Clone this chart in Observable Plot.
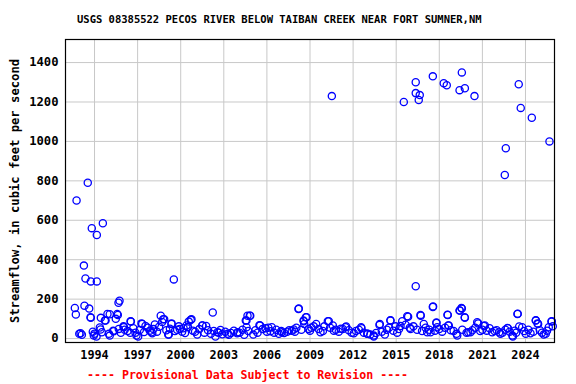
<!DOCTYPE html>
<html>
<head>
<meta charset="utf-8">
<script src="https://cdn.jsdelivr.net/npm/d3@7"></script>
<script src="https://cdn.jsdelivr.net/npm/@observablehq/plot@0.6"></script>
<style>
  html, body { margin: 0; padding: 0; background: white; }
  #wrap { position: relative; width: 576px; height: 384px; overflow: hidden; font-family: "DejaVu Sans Mono", monospace; font-weight: bold; }
  #title { position: absolute; top: 12px; left: 0; width: 576px; padding-left: 77px; box-sizing: border-box; font-size: 10.5px; line-height: 14px; color: black; white-space: pre; }
  #chart { position: absolute; top: 30px; left: 0; }
  #caption { position: absolute; top: 368px; left: 87px; font-size: 11.6px; line-height: 14px; color: red; white-space: pre; }
</style>
</head>
<body>
<div id="wrap">
  <div id="title"></div>
  <div id="chart"></div>
  <div id="caption"></div>
</div>
<script>
const titleText = "USGS 08385522 PECOS RIVER BELOW TAIBAN CREEK NEAR FORT SUMNER,NM";
const captionText = "---- Provisional Data Subject to Revision ----";
const yLabel = "Streamflow, in cubic feet per second";
const xTicks = [1994, 1997, 2000, 2003, 2006, 2009, 2012, 2015, 2018, 2021, 2024];
const yTicks = [0, 200, 400, 600, 800, 1000, 1200, 1400];

// decimal year of each measurement
const years = [
  1992.75, 1993.53, 1993.81, 1994.58, 1994.16, 1993.26, 1993.37, 1993.74, 1994.16, 1999.52,
  1995.74, 1995.67, 1992.63, 1992.70, 1993.30, 1993.63, 1993.74, 2002.23, 2008.22, 2004.81,
  2004.58, 1998.61,
  2010.52, 2015.53, 2016.36, 2016.36, 2016.64, 2016.57, 2017.55, 2018.31, 2018.52, 2019.57,
  2019.41, 2019.78, 2020.45, 2023.53, 2023.67, 2024.44, 2025.67, 2022.63, 2022.56,
  2016.36, 2017.55, 2019.57, 2019.41, 2019.78, 2018.59, 2023.46, 2016.71, 2024.72, 2024.84,
  2025.81, 2015.77, 2014.60, 2013.84, 2008.76, 2008.57, 2010.31, 2020.64, 2017.80,
  1992.94, 1993.12, 1993.95, 1994.14, 1993.88, 1994.44, 1994.72, 1994.90, 1995.06, 1994.37,
  1994.51, 1995.06, 1995.30, 1995.48, 1995.62, 1995.83, 1996.02, 1996.53, 1996.48, 1997.04,
  1997.32, 1997.55, 1998.02, 1998.20, 1998.71, 1998.85, 1999.17, 1999.36, 1999.87, 2000.10,
  2000.56, 2000.75, 2001.15, 2001.50, 2001.77, 2002.42, 2002.77, 2003.35, 2003.93, 2004.42,
  2004.58, 2005.05, 2005.48, 2005.90, 2006.25, 2006.83, 2007.41, 2007.87, 2008.60,
  2009.26, 2009.73, 2010.66, 2011.47, 2012.05, 2012.58, 2012.98, 2013.44, 2014.21, 2015.07,
  2015.30, 2016.00, 2017.16, 2017.85, 2018.66, 2019.25, 2020.17, 2021.10, 2021.68, 2022.26,
  2022.77, 2023.12, 2023.77, 2024.35, 2025.27, 2025.62,
  1993.03, 1994.00, 1994.42, 1995.00, 1995.34, 1995.69, 1996.04, 1994.77, 1995.58, 1993.72,
  1996.51, 1997.27, 1998.78, 1999.36, 1996.92, 1997.97, 1999.13, 1999.94, 2000.40,
  2000.70, 2001.52, 2002.56, 2003.26, 2003.95, 2004.53, 2004.65,
  2004.84, 2005.53, 2006.34, 2007.04, 2007.73, 2008.20, 2008.55, 2008.71, 2008.90,
  2009.43, 2010.24, 2010.59, 2011.28, 2011.52, 2012.56, 2013.02,
  2013.44, 2013.86, 2014.60, 2015.42, 2015.83, 2016.69, 2016.92, 2017.39,
  2017.57, 2018.57, 2019.43, 2019.54, 2019.77, 2017.80, 2018.62, 2020.71, 2021.17, 2019.20, 2020.01,
  2023.44, 2024.72, 2024.88, 2025.83, 2022.75, 2023.56, 2022.17, 2023.09, 2024.02, 2025.41,
  1996.10, 1996.30, 1996.70, 1996.85, 1997.15, 1997.45, 1997.70, 1997.85, 1998.10, 1998.35,
  1998.50, 1999.00, 1999.25, 1999.60, 1999.75, 2000.20, 2000.30, 2000.50, 2000.85, 2001.00,
  2001.30, 2001.65, 2001.90, 2002.10, 2002.30, 2002.65, 2002.90, 2003.10, 2003.50, 2003.70,
  2004.10, 2004.30, 2004.70, 2005.20, 2005.35, 2005.70, 2006.00, 2006.10, 2006.50, 2006.65,
  2007.00, 2007.20, 2007.55, 2007.95, 2008.05, 2008.40, 2009.00, 2009.10, 2009.60, 2009.90,
  2010.00, 2010.40, 2010.80, 2011.00, 2011.15, 2011.70, 2011.90, 2012.20, 2012.40, 2012.75,
  2013.20, 2013.60, 2014.00, 2014.35, 2014.50, 2014.80, 2014.95, 2015.20, 2015.65, 2015.95,
  2016.20, 2016.45, 2016.80, 2017.05, 2017.30, 2017.70, 2018.00, 2018.20, 2018.40, 2018.80,
  2019.00, 2019.60, 2019.90, 2020.30, 2020.50, 2020.85, 2021.00, 2021.30, 2021.50, 2021.85,
  2022.00, 2022.40, 2022.60, 2022.90, 2023.25, 2023.35, 2023.90, 2024.20, 2024.55, 2025.00,
  2025.15, 2025.50, 2025.90
];

// streamflow, cubic feet per second
const flows = [
  700, 790, 560, 585, 525, 370, 305, 290, 290, 300,
  192, 182, 155, 122, 167, 152, 106, 132, 152, 116,
  91, 116,
  1230, 1200, 1300, 1245, 1235, 1210, 1330, 1295, 1285, 1350,
  1260, 1270, 1230, 1290, 1170, 1120, 1000, 965, 830,
  265, 160, 152, 142, 106, 120, 126, 116, 93, 77,
  86, 113, 93, 69, 108, 88, 88, 83, 81,
  24, 19, 15, 10, 35, 105, 91, 125, 123, 56,
  32, 15, 40, 100, 120, 29, 62, 86, 29, 10,
  74, 64, 27, 71, 84, 98, 20, 74, 62, 35,
  86, 98, 20, 66, 64, 10, 44, 19, 27, 19,
  57, 20, 67, 52, 37, 24, 35, 46, 74,
  62, 32, 40, 57, 27, 52, 24, 10, 20, 30,
  64, 49, 32, 57, 66, 15, 32, 64, 32, 24,
  52, 10, 57, 27, 20, 57,
  27, 25, 46, 24, 37, 49, 57, 91, 125, 108,
  88, 77, 98, 77, 15, 32, 20, 49, 66,
  95, 66, 32, 24, 32, 91, 116,
  116, 66, 57, 32, 40, 150, 91, 108, 49,
  74, 88, 66, 49, 61, 57, 24,
  15, 74, 91, 88, 111, 120, 74, 32,
  163, 121, 142, 155, 108, 79, 66, 77, 66, 24, 32,
  125, 91, 74, 88, 54, 61, 32, 15, 24, 24,
  45, 38, 52, 30, 44, 33, 55, 40, 48, 35,
  60, 42, 50, 38, 45, 52, 28, 58, 40, 35,
  48, 30, 42, 25, 38, 30, 22, 35, 28, 40,
  30, 45, 38, 42, 30, 48, 35, 55, 30, 45,
  38, 28, 42, 35, 55, 45, 40, 55, 48, 38,
  62, 55, 45, 35, 50, 42, 30, 38, 45, 30,
  20, 28, 35, 45, 55, 40, 62, 48, 70, 55,
  62, 45, 38, 55, 45, 40, 48, 35, 55, 42,
  38, 45, 30, 42, 55, 38, 45, 40, 52, 38,
  42, 30, 45, 35, 40, 30, 38, 45, 35, 42,
  30, 40, 62
];

const data = years.map((t, i) => ({ t, q: flows[i] }));

document.getElementById("title").textContent = titleText;
document.getElementById("caption").textContent = captionText;

const chart = Plot.plot({
  width: 576,
  height: 332,
  marginTop: 9,
  marginBottom: 20,
  marginLeft: 65,
  marginRight: 22,
  style: { fontFamily: "DejaVu Sans Mono, monospace", fontWeight: "bold", fontSize: "11.6px", background: "white", color: "black" },
  x: { type: "linear", domain: [1991.98, 2026.02] },
  y: { type: "linear", domain: [-20, 1517] },
  marks: [
    Plot.gridX(xTicks, { stroke: "#c8c8c8", strokeOpacity: 1, strokeWidth: 1 }),
    Plot.gridY(yTicks, { stroke: "#c8c8c8", strokeOpacity: 1, strokeWidth: 1 }),
    Plot.axisX(xTicks, { tickSize: 0, tickPadding: 8, tickFormat: d => String(d), label: null, fontSize: 11.8 }),
    Plot.axisY(yTicks, { tickSize: 0, tickPadding: 7, tickFormat: d => String(d), label: yLabel, labelAnchor: "center", labelArrow: "none", labelOffset: 55, fontSize: 12.2 }),
    Plot.dot(data, { x: "t", y: "q", r: 3.6, stroke: "blue", fill: "none", strokeWidth: 1.3 }),
    Plot.frame({ stroke: "black", strokeWidth: 1.2 })
  ]
});
document.getElementById("chart").appendChild(chart);
</script>
</body>
</html>
